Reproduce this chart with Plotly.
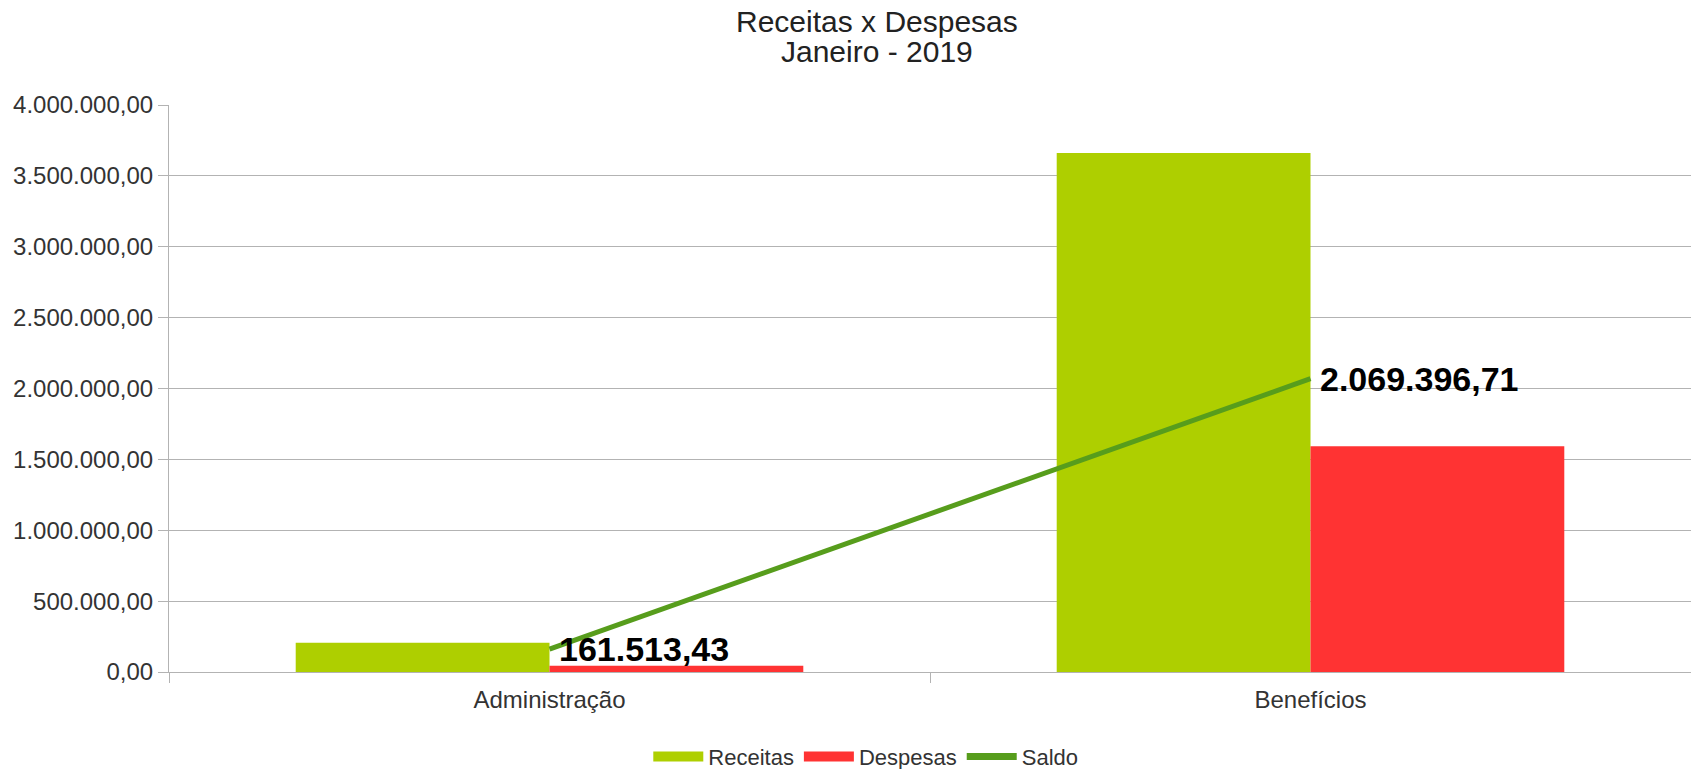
import plotly.graph_objects as go

# Data
categories = ["Administração", "Benefícios"]
receitas = [206000.00, 3662000.00]
despesas = [44486.57, 1592603.29]
saldo = [161513.43, 2069396.71]
saldo_labels = ["161.513,43", "2.069.396,71"]

y_ticks = [0, 500000, 1000000, 1500000, 2000000, 2500000, 3000000, 3500000, 4000000]
y_tick_labels = ["0,00", "500.000,00", "1.000.000,00", "1.500.000,00", "2.000.000,00",
                 "2.500.000,00", "3.000.000,00", "3.500.000,00", "4.000.000,00"]

title_lines = ["Receitas x Despesas", "Janeiro - 2019"]

FONT = "Liberation Sans, Arial, sans-serif"
C_REC = "#aecf00"
C_DES = "#ff3333"
C_SAL = "#579d1c"

fig = go.Figure()
fig.add_trace(go.Bar(x=categories, y=receitas, name="Receitas",
                     marker=dict(color=C_REC, line=dict(width=0)), showlegend=False))
fig.add_trace(go.Bar(x=categories, y=despesas, name="Despesas",
                     marker=dict(color=C_DES, line=dict(width=0)), showlegend=False))
fig.add_trace(go.Scatter(x=categories, y=saldo, name="Saldo", mode="lines",
                         line=dict(color=C_SAL, width=5), showlegend=False))

# saldo value labels, just right of each point
for cat, val, lbl in zip(categories, saldo, saldo_labels):
    fig.add_annotation(x=cat, y=val, text=lbl, showarrow=False,
                       xanchor="left", yanchor="middle", xshift=7,
                       font=dict(family=FONT, size=34, color="#000000", weight="bold"))

# legend keys (wide rectangles like the original)
for name, col, w in [("Receitas", C_REC, 12), ("Despesas", C_DES, 12), ("Saldo", C_SAL, 7)]:
    fig.add_trace(go.Scatter(x=[None], y=[None], name=name, mode="lines",
                             line=dict(color=col, width=w)))

# two-line title, lines spaced like the original
for txt, yp in zip(title_lines, [1.147, 1.0935]):
    fig.add_annotation(text=txt, xref="paper", yref="paper", x=0.465, y=yp,
                       xanchor="center", yanchor="middle", showarrow=False,
                       font=dict(family=FONT, size=30, color="#222222"))

fig.update_layout(
    width=1691, height=769,
    paper_bgcolor="white", plot_bgcolor="white",
    font=dict(family=FONT, size=22, color="#333333"),
    margin=dict(l=169, r=0, t=105, b=97, autoexpand=False),
    barmode="group", bargap=0.333, bargroupgap=0,
    legend=dict(orientation="h", xref="container", yref="container",
                x=0.512, xanchor="center", y=0.016, yanchor="middle",
                font=dict(size=22, color="#333333"), itemwidth=50),
    xaxis=dict(range=[-0.5, 1.5], showline=True, linecolor="#b3b3b3", linewidth=1,
               ticks="outside", tickson="boundaries", ticklen=10, tickcolor="#b3b3b3",
               tickfont=dict(size=24), showgrid=False, automargin=False,
               ticklabelstandoff=6),
    yaxis=dict(range=[0, 4000000], tickvals=y_ticks, ticktext=y_tick_labels,
               showline=True, linecolor="#b3b3b3", linewidth=1,
               ticks="outside", ticklen=10, tickcolor="#b3b3b3",
               gridcolor="#b3b3b3", gridwidth=1, zeroline=False,
               tickfont=dict(size=24), automargin=False),
)

# the page's default body margin would shift the figure by 8px
fig.write_html("out.html", config={"displayModeBar": False},
               post_script="document.body.style.margin='0';")
